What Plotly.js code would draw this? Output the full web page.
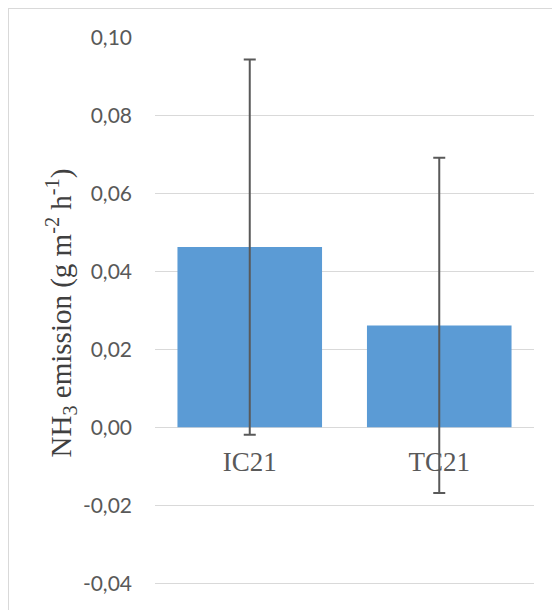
<!DOCTYPE html>
<html>
<head>
<meta charset="utf-8">
<script src="https://cdn.plot.ly/plotly-3.0.1.min.js"></script>
<style>
html,body{margin:0;padding:0;background:#fff;}
#chart{width:552px;height:610px;position:absolute;left:0;top:0;}
#frame{position:absolute;left:8px;top:8px;width:560px;height:620px;border:1.3px solid #d9d9d9;pointer-events:none;box-sizing:border-box;}
</style>
</head>
<body>
<div id="chart"></div>
<div id="frame"></div>
<script>
const categories = ["IC21", "TC21"];
const emission = [0.0462, 0.0261];
const errorValues = [0.0481, 0.0430];
const yTickValues = [-0.04, -0.02, 0.00, 0.02, 0.04, 0.06, 0.08, 0.10];
const yTickLabels = ["-0,04", "-0,02", "0,00", "0,02", "0,04", "0,06", "0,08", "0,10"];
const yTitle = "NH<sub>3</sub> emission (g m<sup>-2</sup> h<sup>-1</sup>)";

const trace = {
  type: "bar",
  x: categories,
  y: emission,
  marker: {color: "#5B9BD5"},
  error_y: {type: "data", array: errorValues, visible: true, color: "#595959", thickness: 2, width: 6},
  hoverinfo: "none"
};

const yMin = -0.0415, yMax = 0.1001;

const layout = {
  width: 552,
  height: 610,
  margin: {l: 155, r: 18, t: 37, b: 21},
  paper_bgcolor: "#ffffff",
  plot_bgcolor: "#ffffff",
  showlegend: false,
  bargap: 0.237,
  xaxis: {
    type: "category",
    anchor: "free",
    position: (0 - yMin) / (yMax - yMin),
    showgrid: false,
    showline: false,
    zeroline: false,
    ticks: "",
    ticklabelstandoff: 16,
    tickfont: {family: "Liberation Serif, Times New Roman, serif", size: 27, color: "#595959"}
  },
  yaxis: {
    range: [yMin, yMax],
    tickvals: yTickValues,
    ticktext: yTickLabels,
    showgrid: true,
    gridcolor: "#d9d9d9",
    gridwidth: 1.3,
    zeroline: true,
    zerolinecolor: "#d9d9d9",
    zerolinewidth: 1.3,
    showline: false,
    ticks: "",
    ticklabelstandoff: 22,
    tickfont: {family: "Lato, Open Sans, sans-serif", size: 21, color: "#595959"},
    title: {
      text: yTitle,
      standoff: 2,
      font: {family: "Liberation Serif, Times New Roman, serif", size: 29, color: "#404040"}
    }
  }
};

Plotly.newPlot("chart", [trace], layout, {staticPlot: true, displayModeBar: false});
</script>
</body>
</html>
